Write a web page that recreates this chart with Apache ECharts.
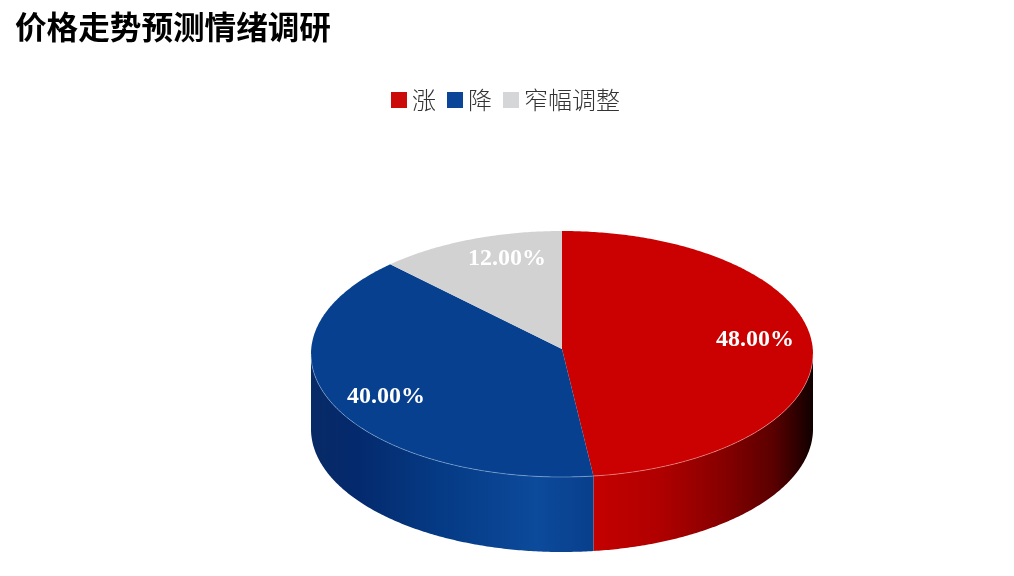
<!DOCTYPE html>
<html><head><meta charset="utf-8">
<style>html,body{margin:0;padding:0;background:#fff}#c{width:1014px;height:576px}</style>
<script src="https://cdn.jsdelivr.net/npm/echarts@6/dist/echarts.min.js"></script>
</head><body><div id="c"></div>
<script>
const chartTitle = '价格走势预测情绪调研';
const categories = ['涨', '降', '窄幅调整'];
const shares = [48, 40, 12];
const topColors = ['#CB0000', '#07408F', '#D2D2D2'];
const legendColors = ['#CB0A0A', '#0B4598', '#D4D6D8'];
// label anchor for each slice, as a fraction of the pie's radii
const labelAnchors = [[0.769, -0.112], [-0.701, 0.345], [-0.219, -0.772]];

const cx = 562, cy = 354, rx = 251, ry = 123, depth = 75, apexY = 349;
const total = shares.reduce((a, b) => a + b, 0);
const rim = a => [cx + rx * Math.sin(a), cy - ry * Math.cos(a)];
const G = (stops) => new echarts.graphic.LinearGradient(0, 0, 1, 0,
  stops.map(s => ({offset: s[0], color: s[1]})));
const sideFill = [
  G([[0, '#C40000'], [0.3, '#B00000'], [0.6, '#850000'], [0.82, '#5A0000'], [1, '#100000']]),
  G([[0, '#082B66'], [0.15, '#04296C'], [0.45, '#053A84'], [0.8, '#0C4A9B'], [1, '#083F8C']]),
  null
];
const rimLine = ['rgba(255,200,200,0.65)', 'rgba(200,225,255,0.55)', null];

function arcPoints(a0, a1) {
  const n = Math.max(2, Math.ceil((a1 - a0) / 0.01));
  const pts = [];
  for (let i = 0; i <= n; i++) pts.push(rim(a0 + (a1 - a0) * i / n));
  return pts;
}
function renderSlice(idx) {
  return function (params, api) {
    const before = shares.slice(0, idx).reduce((a, b) => a + b, 0);
    const a0 = before / total * 2 * Math.PI;
    const a1 = a0 + api.value(0) / total * 2 * Math.PI;
    const children = [];
    // visible front wall: part of the arc between 90 and 270 degrees
    const f0 = Math.max(a0, Math.PI / 2), f1 = Math.min(a1, Math.PI * 1.5);
    if (f1 > f0 && sideFill[idx]) {
      const edge = arcPoints(f0, f1);
      const wall = edge.concat(edge.slice().reverse().map(p => [p[0], p[1] + depth]));
      children.push({type: 'polygon', shape: {points: wall}, style: {fill: sideFill[idx]}});
    }
    const top = [[cx, apexY]].concat(arcPoints(a0, a1));
    children.push({type: 'polygon', shape: {points: top}, style: {fill: topColors[idx]}});
    if (f1 > f0 && rimLine[idx]) {
      children.push({type: 'polyline', shape: {points: arcPoints(f0, f1)},
        style: {fill: null, stroke: rimLine[idx], lineWidth: 0.7}});
    }
    const an = labelAnchors[idx];
    children.push({type: 'text', z2: 10, style: {
      x: cx + rx * an[0], y: cy + ry * an[1],
      text: shares[idx].toFixed(2) + '%',
      fill: '#fff', align: 'center', verticalAlign: 'middle',
      font: 'bold 24px "Liberation Serif"'
    }});
    return {type: 'group', children: children};
  };
}
const chart = echarts.init(document.getElementById('c'), null, {renderer: 'canvas'});
chart.setOption({
  animation: false,
  backgroundColor: '#fff',
  title: {text: chartTitle, left: 10, top: 6,
    textStyle: {fontFamily: '"Noto Sans CJK SC"', fontWeight: 'bold', fontSize: 31.6, color: '#000'}},
  legend: {left: 386, top: 83, itemWidth: 16, itemHeight: 16, itemGap: 11, icon: 'rect',
    data: categories,
    textStyle: {fontFamily: '"Noto Sans CJK SC"', fontWeight: 300, fontSize: 24, color: '#333'}},
  series: categories.map((name, i) => ({
    type: 'custom', name, coordinateSystem: 'none', silent: true,
    itemStyle: {color: legendColors[i]},
    data: [[shares[i]]],
    renderItem: renderSlice(i)
  }))
});
</script></body></html>
